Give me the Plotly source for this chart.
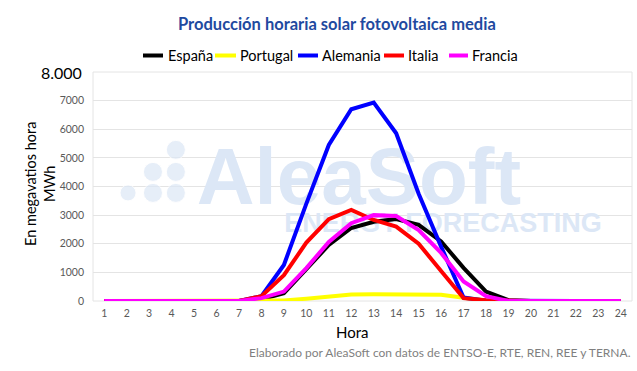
import plotly.graph_objects as go

hours = list(range(1, 25))
espana = [0,0,0,0,0,0,0,60,270,1110,1960,2550,2770,2860,2660,2080,1160,330,30,0,0,0,0,0]
portugal = [0,0,0,0,0,0,0,0,20,80,170,230,240,245,245,220,110,20,0,0,0,0,0,0]
alemania = [0,0,0,0,0,0,0,170,1260,3400,5450,6700,6930,5860,3750,1900,120,10,0,0,0,0,0,0]
italia = [0,0,0,0,0,0,0,170,900,2040,2860,3180,2830,2600,2000,1050,100,30,0,0,0,0,0,0]
francia = [0,0,0,0,0,0,0,100,330,1150,2060,2720,3000,2970,2480,1680,680,170,0,0,0,0,0,0]

series = [("España", espana, "#000000"), ("Portugal", portugal, "#ffff00"),
          ("Alemania", alemania, "#0000ff"), ("Italia", italia, "#ff0000"),
          ("Francia", francia, "#ff00ff")]

yticks = [0, 1000, 2000, 3000, 4000, 5000, 6000, 7000, 8000]
yticktext = ["0", "1000", "2000", "3000", "4000", "5000", "6000", "7000", ""]

W, H = 637, 371
L, R, T, B = 93, 5, 72, 70
FONT = "Lato"
WM = "rgb(220,231,246)"

def px(x):
    return (x - L) / (W - L - R)

def py(y):
    return 1 - (y - T) / (H - T - B)

fig = go.Figure()

# watermark (decoration)
fig.add_trace(go.Scatter(
    x=[4.19, 3.17, 4.19, 2.06, 3.17, 4.19],
    y=[5280, 4510, 4510, 3776, 3776, 3776],
    mode="markers", marker=dict(size=[19, 19, 19, 16, 19, 19], color=WM),
    hoverinfo="skip", showlegend=False))
fig.add_trace(go.Scatter(
    x=[12.34], y=[4080], mode="text", text=["AleaSoft"],
    textfont=dict(family="Liberation Sans", size=80, color=WM, weight="bold"),
    hoverinfo="skip", showlegend=False))
fig.add_trace(go.Scatter(
    x=[16.08], y=[2650], mode="text", text=["ENERGY FORECASTING"],
    textfont=dict(family="Liberation Sans", size=27, color=WM, weight="bold"),
    hoverinfo="skip", showlegend=False))

for name, vals, col in series:
    fig.add_trace(go.Scatter(x=hours, y=vals, name=name, mode="lines",
                             line=dict(color=col, width=4), showlegend=False))

def ann(text, x, y, size, color="#000000", xanchor="center", **kw):
    return dict(text=text, x=px(x), y=py(y), xref="paper", yref="paper",
                xanchor=xanchor, yanchor="middle", showarrow=False,
                font=dict(family=FONT, size=size, color=color), **kw)

annotations = [
    ann("<b>Producción horaria solar fotovoltaica media</b>", 337, 24, 16.5, "#1f4aa0"),
    ann("8.000", 84, 72, 16, xanchor="right"),
    ann("En megavatios hora<br>MWh", 40, 184, 14.5, textangle=-90),
    ann("Hora", 352, 332, 15),
    ann("Elaborado por AleaSoft con datos de ENTSO-E, RTE, REN, REE y TERNA.",
        633, 352, 12, "#7f7f7f", xanchor="right"),
]

shapes = []
legend_pos = [(143, 163, 166), (215, 236, 238), (298, 318, 320), (384, 404, 406), (449, 468, 470)]
for (name, vals, col), (x0, x1, xt) in zip(series, legend_pos):
    shapes.append(dict(type="line", xref="paper", yref="paper", x0=px(x0), x1=px(x1),
                       y0=py(55.5), y1=py(55.5), line=dict(color=col, width=4)))
    annotations.append(ann(name, xt, 55.5, 14.5, xanchor="left"))

# plot area border
shapes.append(dict(type="rect", xref="paper", yref="paper", x0=0, x1=1, y0=0, y1=1,
                   line=dict(color="#e4e4e4", width=1), layer="below"))

fig.update_layout(
    width=W, height=H, margin=dict(l=L, r=R, t=T, b=B),
    paper_bgcolor="white", plot_bgcolor="white",
    annotations=annotations, shapes=shapes, showlegend=False,
    xaxis=dict(range=[0.5, 24.5], tickvals=hours, ticktext=[str(h) for h in hours],
               showgrid=False, zeroline=False, showline=False, ticks="",
               tickfont=dict(family=FONT, size=10.5, color="#595959"), ticklabelstandoff=4),
    yaxis=dict(range=[0, 8000], tickvals=yticks, ticktext=yticktext,
               showgrid=True, gridcolor="#e4e4e4", gridwidth=1, zeroline=False,
               showline=False, ticks="",
               tickfont=dict(family=FONT, size=10.5, color="#595959"), ticklabelstandoff=8),
)

fig.write_html("out.html", config={"displayModeBar": False},
               post_script="document.body.style.margin='0';")
